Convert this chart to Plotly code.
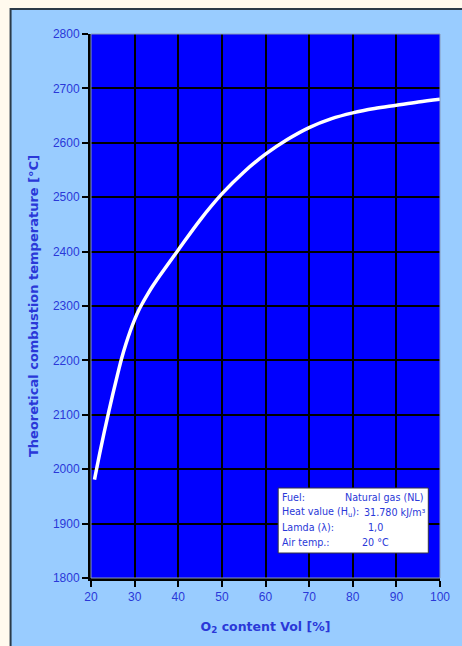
import plotly.graph_objects as go

# Data
o2_content = [20.8, 21, 22, 23, 24, 25, 26, 27, 28, 29, 30, 31, 32, 33, 34, 35, 40, 45, 50, 55, 60, 65, 70,
              75, 80, 85, 90, 95, 100]
temperature = [1981, 1989, 2029, 2067, 2103, 2138, 2171, 2203, 2230, 2254, 2275, 2293, 2308, 2322, 2335, 2347,
               2403, 2458, 2506, 2546, 2579, 2606, 2628, 2644, 2655, 2663, 2669, 2675, 2680]
x_ticks = [20, 30, 40, 50, 60, 70, 80, 90, 100]
y_ticks = [1800, 1900, 2000, 2100, 2200, 2300, 2400, 2500, 2600, 2700, 2800]
info_labels = ["Fuel:", "Heat value (H<sub>u</sub>):", "Lamda (λ):", "Air temp.:"]
info_values = ["Natural gas (NL)", "31.780 kJ/m³", "1,0", "20 °C"]

W, H = 462, 646
ML, MR, MT, MB = 91, 13, 34, 68
PW, PH = W - ML - MR, H - MT - MB

def px_x(p):  # page x -> paper x
    return (p - ML) / PW

def px_y(p):  # page y -> paper y
    return (H - MB - p) / PH

TXT = "#2a38d8"

fig = go.Figure()
fig.add_trace(go.Scatter(x=o2_content, y=temperature, mode="lines",
                         line=dict(color="white", width=3.5, shape="spline", smoothing=1),
                         hoverinfo="skip", showlegend=False))

shapes = [
    # light-blue panel with dark border
    dict(type="rect", xref="paper", yref="paper", x0=px_x(8.5), x1=px_x(480), y0=px_y(9), y1=px_y(680),
         fillcolor="#99ccff", line=dict(color="#2b3a48", width=2), layer="below"),
    # plot area background
    dict(type="rect", xref="paper", yref="paper", x0=0, x1=1, y0=0, y1=1,
         fillcolor="#0000ff", line=dict(width=0), layer="below"),
    # light border around plot area
    dict(type="rect", xref="paper", yref="paper", x0=0, x1=1, y0=0, y1=1,
         line=dict(color="#8899bb", width=1), layer="above"),
    # info box
    dict(type="rect", xref="paper", yref="paper", x0=px_x(283), x1=px_x(437), y0=px_y(553), y1=px_y(488),
         fillcolor="white", line=dict(color="#333344", width=1), layer="above"),
]

annotations = []
row_y = [497, 512, 527, 542]
val_x = [350, 369, 373, 367]
for lab, val, ry, vx in zip(info_labels, info_values, row_y, val_x):
    annotations.append(dict(text=lab, xref="paper", yref="paper", x=px_x(285), y=px_y(ry),
                            xanchor="left", yanchor="middle", showarrow=False,
                            font=dict(family="DejaVu Sans", size=9.6, color=TXT)))
    annotations.append(dict(text=val, xref="paper", yref="paper", x=px_x(vx), y=px_y(ry),
                            xanchor="left", yanchor="middle", showarrow=False,
                            font=dict(family="DejaVu Sans", size=9.6, color=TXT)))

fig.update_layout(
    width=W, height=H,
    margin=dict(l=ML, r=MR, t=MT, b=MB, pad=0),
    paper_bgcolor="#fffaee",
    plot_bgcolor="#0000ff",
    shapes=shapes,
    annotations=annotations,
    showlegend=False,
    xaxis=dict(range=[20, 100], tickvals=x_ticks, ticks="outside", ticklen=6, tickwidth=2,
               tickcolor="black", showline=True, linecolor="black", linewidth=3,
               showgrid=True, gridcolor="black", gridwidth=1.5, zeroline=False,
               tickfont=dict(family="Liberation Sans, Arial", size=12, color=TXT),
               title=dict(text="O<sub>2</sub> content Vol [%]", standoff=19,
                          font=dict(family="DejaVu Sans", size=12.5, color=TXT, weight="bold"))),
    yaxis=dict(range=[1800, 2800], tickvals=y_ticks, ticks="outside", ticklen=6, tickwidth=2,
               tickcolor="black", showline=True, linecolor="black", linewidth=3,
               showgrid=True, gridcolor="black", gridwidth=1.5, zeroline=False,
               tickfont=dict(family="Liberation Sans, Arial", size=12, color=TXT),
               title=dict(text="Theoretical combustion temperature [°C]", standoff=12,
                          font=dict(family="DejaVu Sans", size=13, color=TXT, weight="bold"))),
)

fig.write_html("out.html", config={"displayModeBar": False},
               post_script="document.body.style.margin='0px';document.body.style.overflow='hidden';")
